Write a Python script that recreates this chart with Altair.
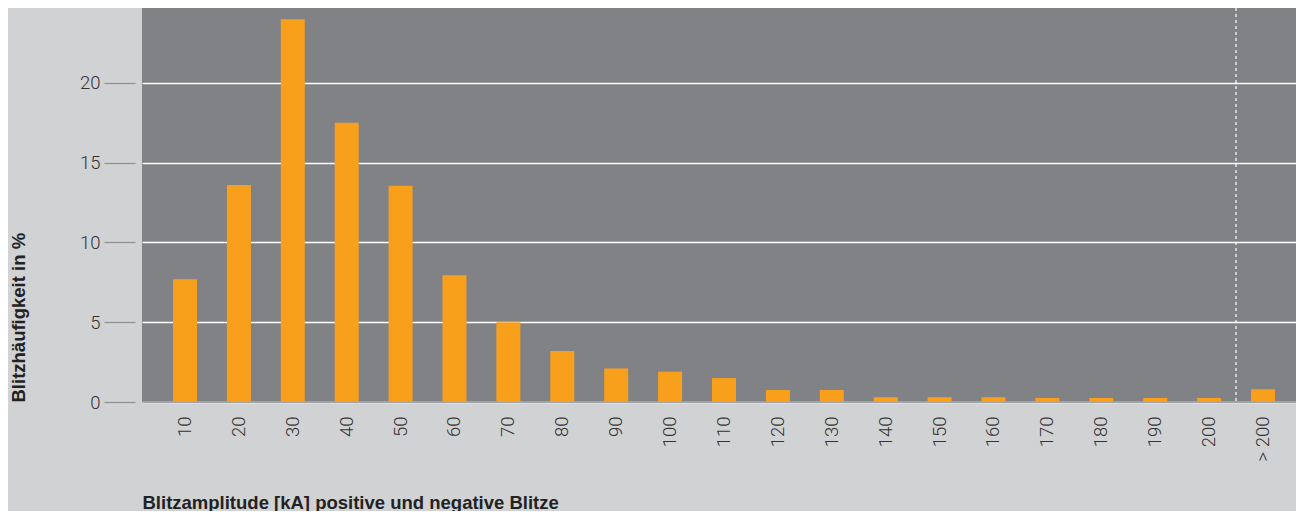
import altair as alt
import pandas as pd

categories = ["10", "20", "30", "40", "50", "60", "70", "80", "90", "100",
              "110", "120", "130", "140", "150", "160", "170", "180", "190", "200", "> 200"]
values = [7.7, 13.6, 24.0, 17.5, 13.55, 7.95, 5.0, 3.2, 2.1, 1.9,
          1.5, 0.75, 0.75, 0.3, 0.3, 0.3, 0.25, 0.25, 0.25, 0.25, 0.8]
y_ticks = [0, 5, 10, 15, 20]
separator = ["> 200"]

df = pd.DataFrame({"cat": categories, "val": values})
sep = pd.DataFrame({"cat": separator})

xscale = alt.Scale(domain=categories, paddingInner=0.555, paddingOuter=0.4825, align=0.596)

FONT = "Liberation Sans"
LFONT = "Roboto"

bars = alt.Chart(df).mark_bar(color="#f8a01c").encode(
    x=alt.X("cat:N", scale=xscale, sort=categories,
            axis=alt.Axis(title="Blitzamplitude [kA] positive und negative Blitze",
                          labelAngle=-90, ticks=False, tickSize=0, labelPadding=14,
                          domain=True, domainColor="#a3a4a7", domainWidth=1,
                          labelFont=LFONT, labelFontSize=18.5, labelColor="#333333",
                          labelFontWeight=300,
                          titleFont=FONT, titleFontSize=18.5, titleFontWeight="bold",
                          titleColor="#222222", titleAnchor="start", titleAlign="left",
                          titleX=0, titleY=106, titleBaseline="alphabetic")),
    y=alt.Y("val:Q", scale=alt.Scale(domain=[0, 24.7], nice=False),
            axis=alt.Axis(title="Blitzhäufigkeit in %", values=y_ticks, offset=7,
                          tickSize=31, tickColor="#8d8e91", tickWidth=1.2,
                          labelPadding=4, domain=False,
                          grid=True, gridColor="#ffffff", gridWidth=1.5,
                          labelFont=LFONT, labelFontSize=18.5, labelColor="#333333",
                          labelFontWeight=300,
                          titleFont=FONT, titleFontSize=18.5, titleFontWeight="bold",
                          titleColor="#222222", titleAnchor="start", titlePadding=51)),
)

rule = alt.Chart(sep).mark_rule(color="#ffffff", strokeDash=[3, 3], strokeWidth=1.2,
                                xOffset=-27).encode(
    x=alt.X("cat:N", scale=xscale, sort=categories)
)

chart = alt.layer(bars, rule).properties(
    width=1154, height=394,
    autosize=alt.AutoSizeParams(type="none"),
    padding={"left": 134, "top": 0, "right": 0, "bottom": 109},
    background="#d1d2d4",
).configure_view(fill="#818286", stroke=None)

chart.save("out.html", embed_options={"renderer": "svg", "actions": False})
